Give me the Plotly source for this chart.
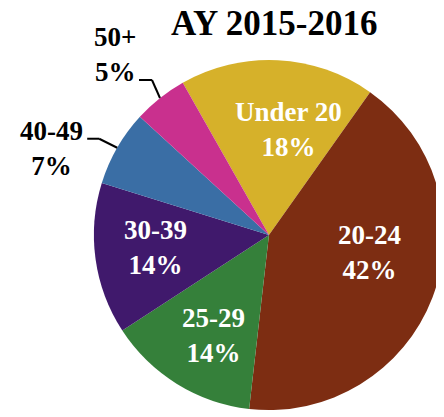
import plotly.graph_objects as go
import math

categories = ["Under 20", "20-24", "25-29", "30-39", "40-49", "50+"]
percents = [18, 42, 14, 14, 7, 5]
colors = ["#D6B12A", "#7D2D12", "#35803A", "#40196C", "#3A6EA5", "#C9308E"]

FONT = "Liberation Serif"
# the page body has an 8px margin, so the figure is sized to fill the window
W, H = 436, 409
ROT = 330.5
DOM_X = [0.197, 1.0]
DOM_Y = [0.005, 0.885]

# label styling: radial fraction and angle nudge (deg) for inside labels,
# leader-line elbow / length and text offset (px) for outside labels
label_style = {
    "Under 20": dict(inside=True, rf=0.61, nudge=7.4),
    "20-24": dict(inside=True, rf=0.585, nudge=-11.3),
    "25-29": dict(inside=True, rf=0.655, nudge=-2.5),
    "30-39": dict(inside=True, rf=0.655, nudge=1.4),
    "40-49": dict(inside=False, elbow=(-18, -9), hline=12, text_off=(-66, 1)),
    "50+": dict(inside=False, elbow=(-8, -18), hline=13, text_off=(-45, -43)),
}

fig = go.Figure()
fig.add_trace(go.Pie(
    labels=categories,
    values=percents,
    sort=False,
    direction="clockwise",
    rotation=ROT,
    marker=dict(colors=colors, line=dict(width=0)),
    textinfo="none",
    domain=dict(x=DOM_X, y=DOM_Y),
    showlegend=False,
    hoverinfo="label+percent",
))

# geometry of the pie as plotly lays it out (zero margins, so paper = figure px)
cx = (DOM_X[0] + DOM_X[1]) / 2 * W
cy = H - (DOM_Y[0] + DOM_Y[1]) / 2 * H
r = min((DOM_X[1] - DOM_X[0]) * W, (DOM_Y[1] - DOM_Y[0]) * H) / 2


def to_paper(px, py):
    return px / W, 1 - py / H


total = sum(percents)
cum = 0
for c, p in zip(categories, percents):
    mid = ROT + (cum + p / 2) / total * 360
    cum += p
    st = label_style[c]
    if st["inside"]:
        a = math.radians(mid + st["nudge"])
        px, py = cx + st["rf"] * r * math.sin(a), cy - st["rf"] * r * math.cos(a)
        x, y = to_paper(px, py)
        fig.add_annotation(
            x=x, y=y, xref="paper", yref="paper",
            text=f"<b>{c}<br>{p}%</b>", showarrow=False,
            font=dict(family=FONT, size=27, color="white"),
            xanchor="center", yanchor="middle", align="center",
        )
    else:
        a = math.radians(mid)
        ex, ey = cx + r * math.sin(a), cy - r * math.cos(a)
        bx, by = ex + st["elbow"][0], ey + st["elbow"][1]
        hx = bx - st["hline"]
        for (x0, y0, x1, y1) in [(ex, ey, bx, by), (bx, by, hx, by)]:
            p0, p1 = to_paper(x0, y0), to_paper(x1, y1)
            fig.add_shape(type="line", xref="paper", yref="paper",
                          x0=p0[0], y0=p0[1], x1=p1[0], y1=p1[1],
                          line=dict(color="black", width=2))
        tx, ty = to_paper(ex + st["text_off"][0], ey + st["text_off"][1])
        fig.add_annotation(
            x=tx, y=ty, xref="paper", yref="paper",
            text=f"<b>{c}<br>{p}%</b>", showarrow=False,
            font=dict(family=FONT, size=27, color="black"),
            xanchor="center", yanchor="middle", align="center",
        )

fig.add_annotation(
    x=0.609, y=1 - 15 / H, xref="paper", yref="paper",
    text="<b>AY 2015-2016</b>", showarrow=False,
    font=dict(family=FONT, size=35, color="black"),
    xanchor="center", yanchor="middle",
)

fig.update_layout(
    width=W, height=H,
    margin=dict(l=0, r=0, t=0, b=0),
    paper_bgcolor="white",
)

fig.write_html("out.html")
